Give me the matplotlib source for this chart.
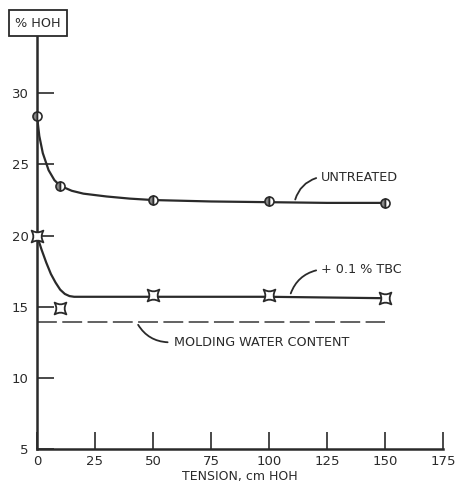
import numpy as np
import matplotlib
matplotlib.use("Agg")
import matplotlib.pyplot as plt
from matplotlib.path import Path

# measured points
tension = [0, 10, 50, 100, 150]
untreated = [28.4, 23.5, 22.5, 22.4, 22.3]
tbc = [20.0, 14.9, 15.8, 15.8, 15.6]

# hand drawn curves
untr_cx = [0, 1, 2.5, 5, 7.5, 10, 15, 20, 30, 40, 50, 75, 100, 125, 150]
untr_cy = [28.4, 27.0, 25.8, 24.6, 23.9, 23.5, 23.15, 22.95, 22.75, 22.6, 22.5, 22.4, 22.35, 22.3, 22.3]
tbc_cx = [0, 2, 4, 6, 8, 10, 12, 14, 16, 25, 50, 100, 150]
tbc_cy = [20.0, 19.0, 18.1, 17.3, 16.7, 16.2, 15.9, 15.75, 15.7, 15.7, 15.7, 15.7, 15.6]

molding = 13.9
xticks = [0, 25, 50, 75, 100, 125, 150, 175]
yticks = [5, 10, 15, 20, 25, 30]

ink = "#2a2a2a"

# concave square marker for the TBC points
t = np.linspace(0, 1, 6)
verts = []
corners = [(-1, -1), (1, -1), (1, 1), (-1, 1), (-1, -1)]
for i in range(4):
    (x0, y0), (x1, y1) = corners[i], corners[i + 1]
    for s in t[:-1]:
        bow = 0.3 * np.sin(np.pi * s)
        px = x0 + (x1 - x0) * s
        py = y0 + (y1 - y0) * s
        px -= np.sign(px) * bow if abs(x1 - x0) < 1e-9 else 0
        py -= np.sign(py) * bow if abs(y1 - y0) < 1e-9 else 0
        verts.append((px, py))
verts.append(verts[0])
star = Path(verts, closed=True)

fig = plt.figure(figsize=(4.55, 4.91), dpi=100)
ax = fig.add_axes([0.0813, 0.0855, 0.8923, 0.8432])

ax.plot(untr_cx, untr_cy, color=ink, lw=1.6, zorder=2)
ax.plot(tbc_cx, tbc_cy, color=ink, lw=1.6, zorder=2)
ax.plot(tension, untreated, ls="none", marker="o", ms=6.5, mfc="#888888",
        mec=ink, mew=1.2, fillstyle="left", markerfacecoloralt="white",
        zorder=3, clip_on=False)
ax.plot(tension, tbc, ls="none", marker=star, ms=8.5, mfc="white",
        mec=ink, mew=1.3, zorder=3, clip_on=False)
ax.plot([0, 150], [molding, molding], color="#555555", lw=1.3,
        dashes=(11, 3), zorder=1)

# leaders and labels
lead = dict(arrowstyle="-", color=ink, lw=1.3)
ax.annotate("", xy=(111, 22.35), xytext=(121.5, 24.1),
            arrowprops=dict(lead, connectionstyle="arc3,rad=0.3"))
ax.text(122.5, 24.1, "UNTREATED", fontsize=9.2, color=ink, va="center")
ax.annotate("", xy=(109, 15.75), xytext=(121.5, 17.6),
            arrowprops=dict(lead, connectionstyle="arc3,rad=0.3"))
ax.text(122.5, 17.6, "+ 0.1 % TBC", fontsize=9.2, color=ink, va="center")
ax.annotate("", xy=(43, 13.9), xytext=(57.5, 12.5),
            arrowprops=dict(lead, connectionstyle="arc3,rad=-0.3"))
ax.text(59, 12.5, "MOLDING WATER CONTENT", fontsize=9.2, color=ink, va="center")

ax.set_xlim(0, 175)
ax.set_ylim(5, 34.1)
ax.set_xticks(xticks)
ax.set_yticks(yticks)
ax.tick_params(axis="x", direction="in", length=12, width=1.2, colors=ink,
               labelsize=9.5, pad=4)
ax.tick_params(axis="y", direction="in", length=12, width=1.2, colors=ink,
               labelsize=9.5, pad=6)
for side in ["top", "right"]:
    ax.spines[side].set_visible(False)
for side in ["left", "bottom"]:
    ax.spines[side].set_linewidth(1.8)
    ax.spines[side].set_color(ink)
ax.set_xlabel("TENSION, cm HOH", fontsize=9, color=ink, labelpad=2)

fig.text(0.083, 0.953, "% HOH", fontsize=9.2, color=ink, ha="center", va="center",
         bbox=dict(boxstyle="square,pad=0.5", fc="white", ec=ink, lw=1.3))

fig.savefig("out.png", dpi=100, facecolor="white")
